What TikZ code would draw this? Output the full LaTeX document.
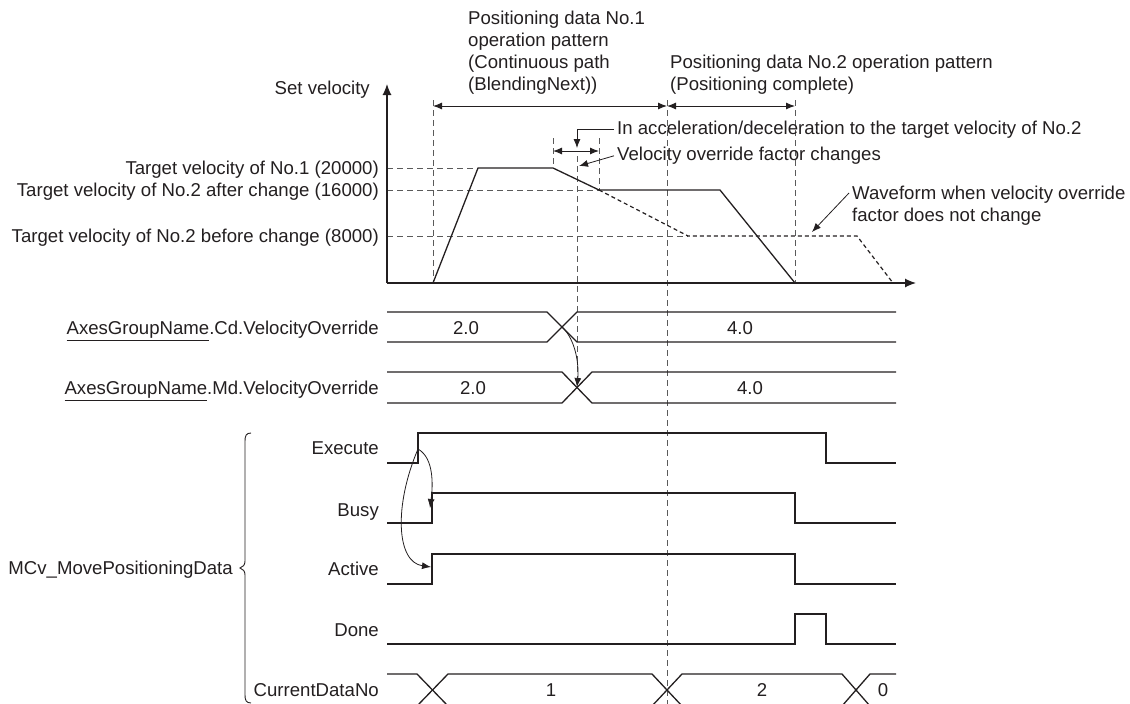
\documentclass[tikz,border=0pt]{standalone}
\usepackage{fontspec}
\setmainfont{Liberation Sans}
\usetikzlibrary{arrows.meta}
\definecolor{ink}{HTML}{231F20}
\definecolor{guidegray}{HTML}{5A5A5A}
\begin{document}
\begin{tikzpicture}[x=1pt,y=-1pt,
  every node/.style={text=ink, font=\fontsize{18.6}{22}\selectfont, inner sep=0pt},
  sig/.style={draw=ink, line width=1.3pt},
  wavedash/.style={draw=ink, line width=1.2pt, dash pattern=on 4pt off 3pt},
  guide/.style={draw=guidegray, line width=1pt, dash pattern=on 6pt off 4pt},
  dimline/.style={draw=ink, line width=1pt, {Latex[length=9pt,width=7pt]}-{Latex[length=9pt,width=7pt]}},
  lead/.style={draw=ink, line width=0.8pt, -{Latex[length=9pt,width=7pt]}},
  axisline/.style={draw=ink, line width=1.2pt, -{Latex[length=11pt,width=9pt]}},
  lbl/.style={anchor=base east, yshift=-6.6pt},
  lbw/.style={anchor=base west, yshift=-6.6pt},
  lbc/.style={anchor=base, yshift=-6.6pt},
]
\useasboundingbox (0,0) rectangle (1130,704);
\clip (0,0) rectangle (1130,704);

% ---------- top annotations ----------
\node[anchor=north west, align=left] (p1) at (468,11) {Positioning data No.1\\operation pattern\\(Continuous path\\(BlendingNext))};
\node[anchor=north west, align=left] (p2) at (670,55) {Positioning data No.2 operation pattern\\(Positioning complete)};

\coordinate (d0) at (433,106);
\coordinate (d1) at (667,106);
\coordinate (d2) at (795,106);
\draw[dimline] (d0) -- (d1);
\draw[dimline] (d1) -- (d2);

% guides
\draw[guide] (433,100) -- (433,283);
\draw[guide] (667,100) -- (667,704);
\draw[guide] (795,100) -- (795,283);
\draw[guide] (553,138) -- (553,168);
\draw[guide] (599,138) -- (599,190);
\draw[guide] (577,156) -- (577,388);
\draw[guide] (387,168) -- (478,168);
\draw[guide] (387,190) -- (599,190);
\draw[guide] (387,236) -- (688,236);

% axes
\coordinate (o) at (387,283);
\coordinate (ytip) at (387,84);
\coordinate (xtip) at (916,283);
\draw[axisline] (o) -- (ytip);
\draw[axisline] (o) -- (xtip);
\node[lbl] (sv) at (370,88) {Set velocity};
\node[lbl] (t1) at (379,168) {Target velocity of No.1 (20000)};
\node[lbl] (t2) at (379,190) {Target velocity of No.2 after change (16000)};
\node[lbl] (t3) at (379,236) {Target velocity of No.2 before change (8000)};

% velocity profile
\draw[sig] (433,283) -- (478,168) -- (553,168) -- (599,190) -- (720,190) -- (795,283);
\draw[wavedash] (599,190) -- (688,236) -- (857,236) -- (893,283);

% leaders
\node[lbw] (acc) at (617,128) {In acceleration/deceleration to the target velocity of No.2};
\coordinate (accend) at (577,148);
\draw[lead] ([xshift=-3pt]acc.west) -| (accend);
\coordinate (c0) at (553,151);
\coordinate (c1) at (599,151);
\draw[dimline] (c0) -- (c1);
\node[lbw] (vof) at (617,154) {Velocity override factor changes};
\coordinate (vofend) at (579,166);
\draw[lead] ([xshift=-3pt]vof.west) -- (vofend);
\node[anchor=north west, align=left] (wf) at (852,186) {Waveform when velocity override\\factor does not change};
\coordinate (wfend) at (812,232);
\draw[lead] (849,193) -- (wfend);

% ---------- velocity override buses ----------
\node[lbl] (cdl) at (379,328) {\underline{AxesGroupName}.Cd.VelocityOverride};
\node[lbl] (mdl) at (379,388) {\underline{AxesGroupName}.Md.VelocityOverride};
\draw[sig] (387,312) -- (547,312) -- (577,342) -- (896,342);
\draw[sig] (387,342) -- (547,342) -- (577,312) -- (896,312);
\draw[sig] (387,372) -- (562,372) -- (592,403) -- (896,403);
\draw[sig] (387,403) -- (562,403) -- (592,372) -- (896,372);
\node[lbc] (cd1) at (466,328) {2.0};
\node[lbc] (cd2) at (740,328) {4.0};
\node[lbc] (md1) at (473,388) {2.0};
\node[lbc] (md2) at (750,388) {4.0};
\coordinate (cdx) at (562,327);
\coordinate (mdx) at (577,387);
\draw[lead] (cdx) .. controls (576,340) and (579,365) .. (mdx);

% ---------- function block signals ----------
\node[lbl] (exl) at (379,448) {Execute};
\node[lbl] (bul) at (379,510) {Busy};
\node[lbl] (acl) at (379,569) {Active};
\node[lbl] (dol) at (379,630) {Done};
\node[lbl] (cnl) at (379,690) {CurrentDataNo};
\node[lbl] (mcv) at (233,568) {MCv\_MovePositioningData};
\draw[ink, line width=0.9pt] (251,433) .. controls (246,433) and (245,436) .. (245,441) -- (245,561)
  .. controls (245,565) and (243,567) .. (240,568) .. controls (243,569) and (245,571) .. (245,575)
  -- (245,695) .. controls (245,700) and (246,703) .. (251,703);

\draw[sig] (387,463) -- (418,463) -- (418,433) -- (826,433) -- (826,463) -- (896,463);
\draw[sig] (387,523) -- (432,523) -- (432,493) -- (795,493) -- (795,523) -- (896,523);
\draw[sig] (387,584) -- (432,584) -- (432,554) -- (795,554) -- (795,584) -- (896,584);
\draw[sig] (387,644) -- (795,644) -- (795,614) -- (826,614) -- (826,644) -- (896,644);
% CurrentDataNo bus
\draw[sig] (387,674) -- (417,674) -- (448,706) -- (652,706) -- (682,674) -- (842,674) -- (870,706) -- (896,706);
\draw[sig] (387,706) -- (417,706) -- (448,674) -- (652,674) -- (682,706) -- (842,706) -- (870,674) -- (896,674);
\node[lbc] (n1) at (551,690) {1};
\node[lbc] (n2) at (762,690) {2};
\node[lbc] (n0) at (883,690) {0};

\coordinate (exr) at (418,449);
\coordinate (bur) at (430,508);
\coordinate (acr) at (431,567);
\draw[lead] (exr) .. controls (434,458) and (433,485) .. (bur);
\draw[lead] (exr) .. controls (394,505) and (396,562) .. (acr);
\end{tikzpicture}
\end{document}
